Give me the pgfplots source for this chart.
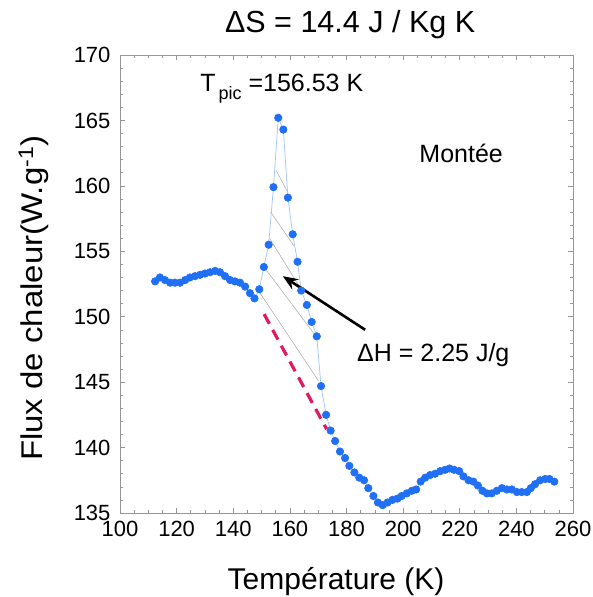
\documentclass[border=0pt]{standalone}
\usepackage{pgfplots}
\pgfplotsset{compat=1.18}
\usetikzlibrary{arrows.meta}
\usepackage{fontspec}
\setmainfont{Liberation Sans}
\definecolor{ptblue}{RGB}{32,112,245}
\definecolor{lnblue}{RGB}{160,195,250}
\definecolor{dashred}{RGB}{225,25,95}
\definecolor{axgrey}{RGB}{150,150,150}
\begin{document}
\begin{tikzpicture}
\begin{axis}[
  scale only axis,
  width=453pt, height=458pt,
  xmin=100, xmax=260, ymin=135, ymax=170,
  xtick={100,120,...,260}, ytick={135,140,...,170},
  minor x tick num=3, minor y tick num=4,
  tick align=inside,
  major tick length=5pt, minor tick length=3pt,
  every tick/.style={axgrey, line width=0.6pt},
  axis line style={axgrey, line width=0.8pt},
  /pgf/number format/assume math mode=true,
  tick label style={font=\fontsize{22}{24}\selectfont},
  xticklabel style={yshift=-5pt},
  yticklabel style={xshift=-6pt},
  label style={font=\fontsize{30}{34}\selectfont},
  xlabel={Température (K)},
  ylabel={\scalebox{1.1}[1]{Flux de chaleur(W.g\textsuperscript{-1})}},
  xlabel style={at={(axis description cs:0.477,-0.166)}, anchor=base},
  ylabel style={at={(axis description cs:-0.172,0.469)}, anchor=base},
  clip=false,
]
% hatch lines
\addplot[gray!70, line width=0.5pt] coordinates {(155.1,161.2) (159.3,159.5)};
\addplot[gray!70, line width=0.5pt] coordinates {(153.2,158.0) (161.5,155.4)};
\addplot[gray!70, line width=0.5pt] coordinates {(152.8,156.0) (163.4,152.3)};
\addplot[gray!70, line width=0.5pt] coordinates {(151.2,153.7) (168.9,148.6)};
\addplot[gray!70, line width=0.5pt] coordinates {(149.5,151.8) (170.1,145.1)};
% dashed baseline
\addplot[dashred, line width=3.2pt, dash pattern=on 11pt off 7pt] coordinates {(150.9,150.2) (173.0,141.4)};
% data
\addplot[lnblue, line width=0.7pt, mark=*, mark size=3.7pt,
  mark options={draw=ptblue, fill=ptblue}] coordinates {
(112.4,152.7) (114.1,153.0) (115.9,152.8) (117.7,152.6) (119.4,152.6)
(121.2,152.6) (123.0,152.8) (124.7,153.0) (126.5,153.1) (128.3,153.2)
(130.0,153.3) (131.8,153.4) (133.6,153.5) (135.3,153.4) (137.1,153.1)
(138.9,152.8) (140.6,152.7) (142.4,152.6) (144.2,152.3) (145.9,151.8)
(147.5,151.4) (149.2,152.1) (150.8,153.8) (152.5,155.5) (154.2,159.9)
(155.9,165.2) (157.7,164.3) (159.3,159.1) (161.0,156.3) (162.7,154.2)
(164.0,152.0) (166.0,150.9) (167.7,149.6) (169.5,148.5) (171.0,144.7)
(172.8,142.5) (174.4,141.3) (176.0,140.5) (177.7,139.7) (179.5,139.2)
(181.0,138.6) (182.8,138.1) (184.5,137.7) (186.2,137.5) (187.7,136.9)
(189.5,136.3) (191.1,135.8) (192.8,135.6) (194.5,135.8) (196.2,136.0)
(198.0,136.1) (199.5,136.3) (201.3,136.5) (203.1,136.7) (204.6,136.8)
(206.2,137.4) (207.8,137.7) (209.5,137.9) (211.3,138.0) (213.1,138.2)
(214.8,138.3) (216.4,138.4) (218.0,138.3) (219.8,138.2) (221.3,137.8)
(223.1,137.5) (224.8,137.4) (226.4,137.1) (228.0,136.7) (229.6,136.5)
(231.3,136.5) (233.1,136.7) (234.9,136.9) (236.6,136.8) (238.4,136.8)
(240.2,136.6) (241.9,136.6) (243.7,136.6) (245.1,136.9) (246.6,137.2)
(248.4,137.5) (250.2,137.6) (251.7,137.6) (253.4,137.4)
};
% arrow
\draw[-{Stealth[length=15pt,width=12pt]}, line width=2.6pt, black] (axis cs:186.6,149.0) -- (axis cs:157.5,153.1);
% texts
\node[anchor=base, font=\fontsize{30.5}{34}\selectfont] at (axis description cs:0.508,1) [yshift=22pt] {ΔS = 14.4 J / Kg K};
\node[anchor=base west, font=\fontsize{25}{28}\selectfont, inner sep=0pt] at (axis cs:128.3,167.2) {T\raisebox{-0.6ex}{\fontsize{18}{20}\selectfont\,pic} =156.53 K};
\node[anchor=base west, font=\fontsize{25}{29}\selectfont, inner sep=0pt] at (axis cs:205.7,161.75) {Montée};
\node[anchor=base west, font=\fontsize{25}{29}\selectfont, inner sep=0pt] at (axis cs:183.7,146.57) {ΔH = 2.25 J/g};
\coordinate (BL) at ([xshift=-120pt,yshift=-84pt]rel axis cs:0,0);
\coordinate (TR) at ([xshift=19pt,yshift=55pt]rel axis cs:1,1);
\end{axis}
\pgfresetboundingbox
\path (BL) rectangle (TR);
\end{tikzpicture}
\end{document}
